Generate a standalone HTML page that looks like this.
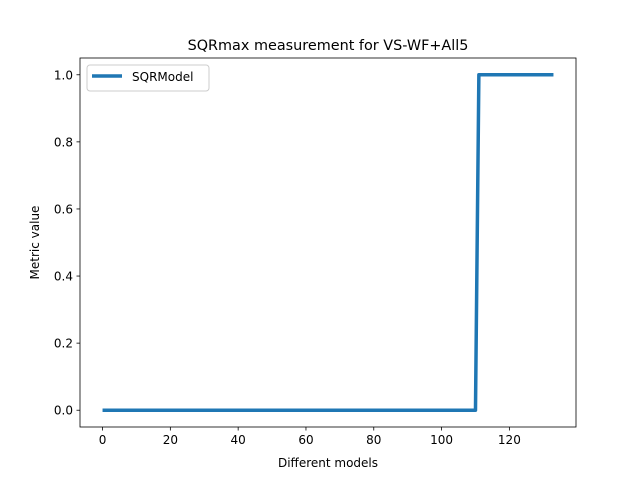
<!DOCTYPE html>
<html><head><meta charset="utf-8"><style>
body{margin:0;background:#fff;}
svg text{font-family:"DejaVu Sans","Liberation Sans",sans-serif;fill:#000;}
</style></head><body>
<svg id="chart" width="640" height="480">
<rect width="640" height="480" fill="#fff"/>
<text x="328" y="50" font-size="14.4" text-anchor="middle">SQRmax measurement for VS-WF+All5</text>
<g id="plot"></g>
<rect x="80" y="58" width="496" height="369" fill="none" stroke="#000" stroke-width="0.8"/>
<text x="328" y="467" font-size="12" text-anchor="middle">Different models</text>
<text transform="translate(39,242.5) rotate(-90)" font-size="12" text-anchor="middle">Metric value</text>
<g>
<rect x="87" y="65" width="122" height="26" rx="3" fill="#fff" fill-opacity="0.8" stroke="#ccc"/>
<line x1="92" y1="76" x2="122" y2="76" stroke="#1f77b4" stroke-width="3.5"/>
<text x="132" y="81" font-size="12">SQRModel</text>
</g>
</svg>
<script>
const xTicks=[0,20,40,60,80,100,120];
const yTicks=[0.0,0.2,0.4,0.6,0.8,1.0];
const yTickLabels=["0.0","0.2","0.4","0.6","0.8","1.0"];
const seriesValues=[0,0,0,0,0,0,0,0,0,0,0,0,0,0,0,0,0,0,0,0,0,0,0,0,0,0,0,0,0,0,0,0,0,0,0,0,0,0,0,0,0,0,0,0,0,0,0,0,0,0,0,0,0,0,0,0,0,0,0,0,0,0,0,0,0,0,0,0,0,0,0,0,0,0,0,0,0,0,0,0,0,0,0,0,0,0,0,0,0,0,0,0,0,0,0,0,0,0,0,0,0,0,0,0,0,0,0,0,0,0,0,1,1,1,1,1,1,1,1,1,1,1,1,1,1,1,1,1,1,1,1,1,1,1];
const NS="http://www.w3.org/2000/svg";
const L=80,R=576,T=58,B=427;
const n=seriesValues.length;
const xmin=0,xmax=n-1,xpad=(xmax-xmin)*0.05;
const ymin=Math.min(...seriesValues),ymax=Math.max(...seriesValues),ypad=(ymax-ymin)*0.05;
const X=v=>L+(v-(xmin-xpad))/((xmax+xpad)-(xmin-xpad))*(R-L);
const Y=v=>B-(v-(ymin-ypad))/((ymax+ypad)-(ymin-ypad))*(B-T);
const g=document.getElementById('plot');
function mk(t,a){const e=document.createElementNS(NS,t);for(const k in a)e.setAttribute(k,a[k]);g.appendChild(e);return e;}
xTicks.forEach(v=>{
 const l=mk('line',{x1:X(v),x2:X(v),y1:B,y2:B+3.5,stroke:'#000','stroke-width':0.8});
 
 
 const t=mk('text',{x:X(v),y:B+17,'font-size':12,'text-anchor':'middle'});t.textContent=v;
 
 
});
yTicks.forEach((v,i)=>{
 const l=mk('line',{x1:L-3.5,x2:L,y1:Y(v),y2:Y(v),stroke:'#000','stroke-width':0.8});
 
 
 const t=mk('text',{x:L-7,y:Y(v)+4.5,'font-size':12,'text-anchor':'end'});t.textContent=yTickLabels[i];
 
 
});
const p=mk('polyline',{points:seriesValues.map((v,i)=>X(i)+','+Y(v)).join(' '),fill:'none',stroke:'#1f77b4','stroke-width':3.5,'stroke-linejoin':'round'});


</script>
</body></html>
